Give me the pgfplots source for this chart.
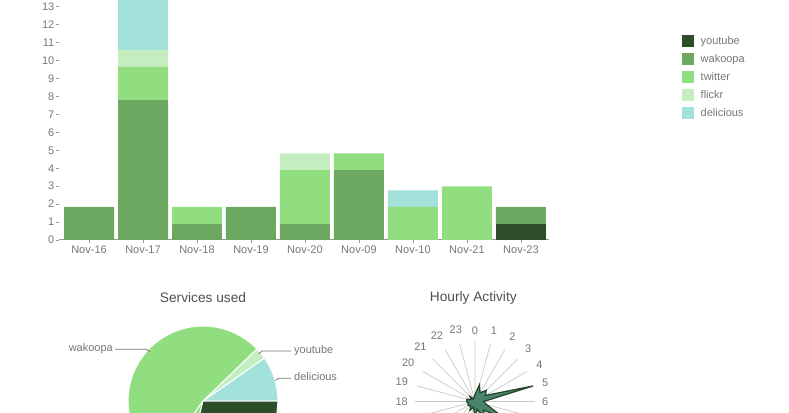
\documentclass[border=0pt]{standalone}
\usepackage{pgfplots}
\pgfplotsset{compat=1.18}
\usepgfplotslibrary{polar}
\usepackage{fontspec}
\setmainfont{Liberation Sans}
\definecolor{cyt}{RGB}{45,76,40}
\definecolor{cwa}{RGB}{108,168,96}
\definecolor{ctw}{RGB}{145,222,128}
\definecolor{cfl}{RGB}{197,238,192}
\definecolor{cde}{RGB}{163,226,218}
\definecolor{txt}{RGB}{118,118,118}
\definecolor{ttl}{RGB}{80,80,80}
\definecolor{radfill}{RGB}{72,132,112}
\definecolor{radline}{RGB}{40,72,40}
\definecolor{spoke}{RGB}{200,200,200}
\begin{document}
\begin{tikzpicture}[x=1pt,y=1pt]
\useasboundingbox (0,0) rectangle (789,412);
\clip (0,0) rectangle (789,412);
% ---------------- stacked bars ----------------
\begin{axis}[
  at={(59pt,172pt)}, anchor=south west, scale only axis,
  width=490pt, height=240pt,
  xmin=-0.556, xmax=8.52, ymin=0, ymax=13.38,
  ybar stacked, bar width=0.926,
  axis x line*=bottom, axis y line*=left,
  x axis line style={-, draw=gray!80, line width=1pt},
  y axis line style={draw=none},
  xtick={0,...,8},
  xticklabels={Nov-16,Nov-17,Nov-18,Nov-19,Nov-20,Nov-09,Nov-10,Nov-21,Nov-23},
  ytick={0,...,13},
  tick align=outside, major tick length=3.5pt,
  tick style={draw=gray!80, line width=0.8pt},
  ticklabel style={font=\fontsize{11}{13}\selectfont, text=txt},
  yticklabel style={inner sep=1pt},
  xticklabel style={inner sep=2.5pt},
  /pgf/number format/assume math mode=true,
  every axis plot post/.append style={legend image code/.code={\fill[##1] (0pt,-6pt) rectangle (12pt,6pt);}},
  legend style={at={(1.2714,0.854)}, anchor=north west, draw=none, fill=none,
    font=\fontsize{11}{13}\selectfont, text=txt, inner sep=0pt,
    nodes={inner sep=0pt, text height=9pt, text depth=3pt},
    row sep=6pt, /tikz/every odd column/.append style={column sep=6.5pt}},
  legend cell align=left,
]
\addplot[fill=cyt, draw=none] coordinates {(0,0) (1,0) (2,0) (3,0) (4,0) (5,0) (6,0) (7,0) (8,0.89)};
\addplot[fill=cwa, draw=none] coordinates {(0,1.84) (1,7.83) (2,0.89) (3,1.84) (4,0.89) (5,3.90) (6,0) (7,0) (8,0.95)};
\addplot[fill=ctw, draw=none] coordinates {(0,0) (1,1.82) (2,0.95) (3,0) (4,3.01) (5,0.93) (6,1.84) (7,2.99) (8,0)};
\addplot[fill=cfl, draw=none] coordinates {(0,0) (1,0.95) (2,0) (3,0) (4,0.93) (5,0) (6,0) (7,0) (8,0)};
\addplot[fill=cde, draw=none] coordinates {(0,0) (1,4.0) (2,0) (3,0) (4,0) (5,0) (6,0.93) (7,0) (8,0)};
\legend{youtube,wakoopa,twitter,flickr,delicious}
\end{axis}
% ---------------- pie ----------------
\node[font=\fontsize{13.7}{16}\selectfont, text=ttl] at (203,114.5) {Services used};
\begin{polaraxis}[
  at={(203pt,11pt)}, anchor=origin, scale only axis,
  width=150pt, height=150pt, ymin=0, ymax=75,
  hide axis, clip=false,
]
\addplot[fill=cde, draw=white, line width=1pt] coordinates {(0,0) (0,75) (5,75) (10,75) (15,75) (20,75) (25,75) (30,75) (35,75) (35,0) (0,0)};
\addplot[fill=cfl, draw=white, line width=1pt] coordinates {(35,0) (35,75) (40,75) (44,75) (44,0) (35,0)};
\addplot[fill=ctw, draw=white, line width=1pt] coordinates {(44,0) (44,75) (50,75) (55,75) (60,75) (65,75) (70,75) (75,75) (80,75) (85,75) (90,75) (95,75) (100,75) (105,75) (110,75) (115,75) (120,75) (125,75) (130,75) (135,75) (140,75) (145,75) (150,75) (155,75) (160,75) (165,75) (170,75) (175,75) (180,75) (185,75) (190,75) (195,75) (200,75) (205,75) (210,75) (215,75) (220,75) (225,75) (230,75) (235,75) (235,0) (44,0)};
\addplot[fill=ctw, draw=white, line width=1pt] coordinates {(235,0) (235,75) (240,75) (245,75) (250,75) (256,75) (256,0) (235,0)};
\addplot[fill=cyt, draw=white, line width=1pt] coordinates {(256,0) (256,75) (260,75) (270,75) (280,75) (290,75) (300,75) (310,75) (320,75) (330,75) (340,75) (350,75) (360,75) (360,0) (256,0)};
\end{polaraxis}
\draw[txt, line width=0.8pt] (115,62.7) -- (146,62.7) -- (150,60.5);
\node[anchor=mid east, inner sep=0pt, font=\fontsize{11}{13}\selectfont, text=txt] at (113,62.7) {wakoopa};
\draw[txt, line width=0.8pt] (291,61) -- (262,61) -- (258.5,58);
\node[anchor=mid west, inner sep=0pt, font=\fontsize{11}{13}\selectfont, text=txt] at (294,61) {youtube};
\draw[txt, line width=0.8pt] (291,33.7) -- (278.5,33.7) -- (275.5,31.5);
\node[anchor=mid west, inner sep=0pt, font=\fontsize{11}{13}\selectfont, text=txt] at (294,33.7) {delicious};
% ---------------- radar ----------------
\node[font=\fontsize{13.7}{16}\selectfont, text=ttl] at (473.3,114.5) {Hourly Activity};
\begin{polaraxis}[
  at={(475pt,10.5pt)}, anchor=origin, scale only axis,
  width=120pt, height=120pt, ymin=0, ymax=60,
  clip=false,
  x axis line style={draw=none}, y axis line style={draw=none},
  ytick=\empty,
  xtick={0,15,...,345},
  xticklabels={6,5,4,3,2,1,0,23,22,21,20,19,18,{},{},{},{},{},{},{},{},{},{},{}},
  xmajorgrids, major grid style={draw=spoke, line width=0.7pt},
  major tick length=0pt, xtick style={draw=none},
  xticklabel style={font=\fontsize{11}{13}\selectfont, text=txt, inner sep=7pt},
]
\addplot[fill=radfill, draw=radline, line width=1.3pt, line join=miter] coordinates {
 (90,7) (75,17.2) (60,10) (45,15.8) (30,12) (15,60) (0,8.5) (345,12) (330,35) (315,12) (300,20) (285,8) (270,15) (255,6) (240,10) (225,6) (210,8) (195,7) (180,8.3) (165,8.5) (150,4) (135,7) (120,3) (105,4) (90,7)};
\end{polaraxis}
\end{tikzpicture}
\end{document}
